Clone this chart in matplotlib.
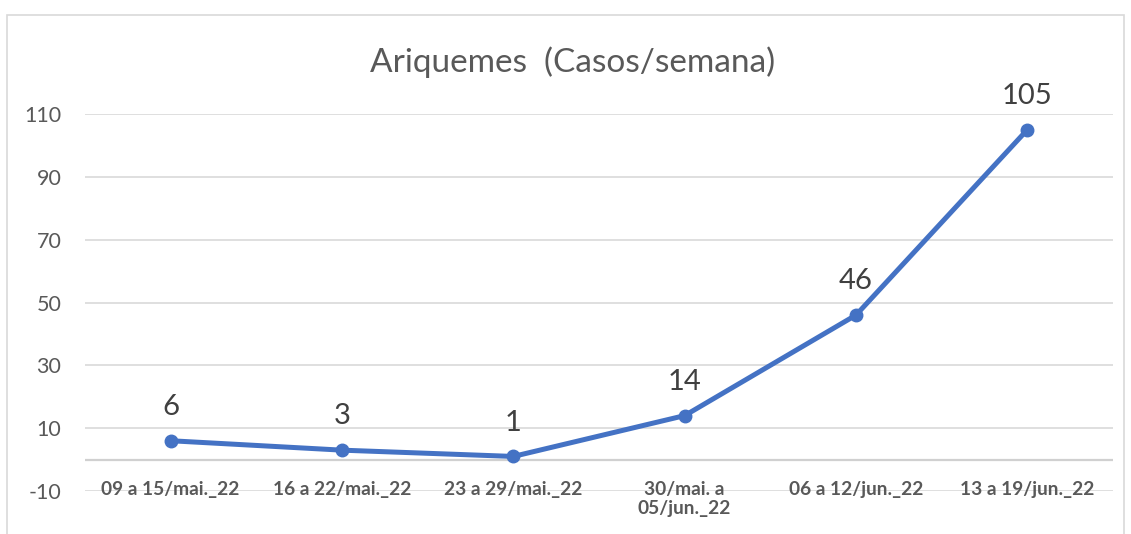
import matplotlib.pyplot as plt
import numpy as np

semanas = ["09 a 15/mai._22", "16 a 22/mai._22", "23 a 29/mai._22",
           "30/mai. a\n05/jun._22", "06 a 12/jun._22", "13 a 19/jun._22"]
casos = [6, 3, 1, 14, 46, 105]
yticks = [-10, 10, 30, 50, 70, 90, 110]

plt.rcParams["font.family"] = ["Lato", "DejaVu Sans"]
txt = "#595959"
azul = "#4472C4"

fig = plt.figure(figsize=(11.31, 5.34), dpi=100)
ax = fig.add_axes([85 / 1131, 1 - 491 / 534, (1113 - 85) / 1131, (491 - 114) / 534])

x = np.arange(len(casos))
ax.plot(x, casos, color=azul, lw=3.6, marker="o", ms=9, zorder=3,
        solid_capstyle="round")
for xi, v in zip(x, casos):
    ax.annotate(str(v), (xi, v), xytext=(0, 15), textcoords="offset points",
                ha="center", va="bottom", fontsize=21, color="#404040")

ax.set_xlim(-0.5, len(casos) - 0.5)
ax.set_ylim(-10, 110)
ax.set_yticks(yticks)
ax.set_yticklabels([str(t) for t in yticks], fontsize=15.5, color=txt)
ax.tick_params(axis="y", length=0, pad=17)
ax.grid(axis="y", color="#d9d9d9", lw=1.2)
ax.axhline(0, color="#d0d0d0", lw=1.6, zorder=1)
ax.set_xticks([])
for s in ax.spines.values():
    s.set_visible(False)

# category labels hang under the zero line, as in Excel
for xi, lab in zip(x, semanas):
    ax.text(xi, -6.8, lab, ha="center", va="top", fontsize=13.8,
            fontweight="bold", color=txt, linespacing=1.15)

fig.text(0.5066, 1 - 62 / 534, "Ariquemes  (Casos/semana)", ha="center",
         va="center", fontsize=24, color=txt)

border = plt.Rectangle((7 / 1131, -0.05), (1124 - 7) / 1131, 1 - 15 / 534 + 0.05,
                       transform=fig.transFigure, fill=False,
                       edgecolor="#d9d9d9", lw=1.2)
fig.patches.append(border)

fig.savefig("out.png", dpi=100)
